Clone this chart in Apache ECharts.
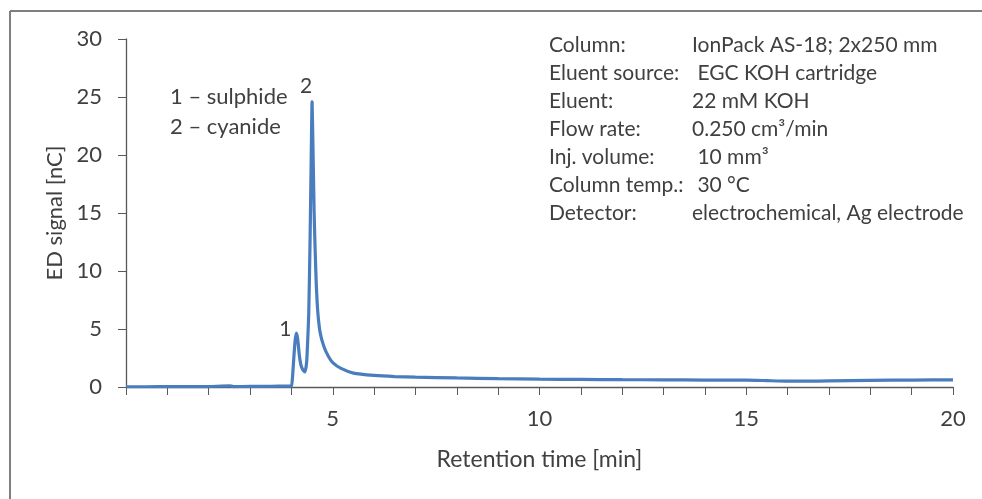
<!DOCTYPE html>
<html>
<head>
<meta charset="UTF-8">
<title>ED chromatogram</title>
<script src="https://cdn.jsdelivr.net/npm/echarts@6/dist/echarts.min.js"></script>
<style>
    html, body { margin: 0; padding: 0; background: #fff; }
    #chart { width: 982px; height: 499px; }
</style>
</head>
<body>
<div id="chart"></div>
<script>
// retention time [min] and ED signal [nC]
var timeMin = [0, 0.5, 1, 1.5, 2, 2.5, 2.6, 3, 3.5, 3.9, 4.0, 4.03, 4.06, 4.09, 4.12, 4.15, 4.19,
    4.23, 4.28, 4.33, 4.37, 4.4, 4.42, 4.45, 4.48, 4.5, 4.52, 4.55, 4.57, 4.6, 4.64, 4.7, 4.79,
    4.9, 5.0, 5.2, 5.5, 6, 6.5, 7, 8, 9, 10, 11, 12, 13, 14, 15, 15.5, 16, 16.5, 17, 18, 19, 20];
var signal = [0.02, 0.02, 0.03, 0.03, 0.04, 0.1, 0.04, 0.05, 0.06, 0.08, 0.1, 1.0, 2.6, 4.0, 4.65, 4.2, 2.8,
    1.9, 1.45, 1.3, 2.2, 4.5, 6.4, 12.3, 20, 24.6, 21, 15, 12.3, 9, 6.4, 4.6, 3.45,
    2.6, 2.1, 1.6, 1.2, 1.0, 0.9, 0.85, 0.78, 0.72, 0.68, 0.65, 0.63, 0.62, 0.6, 0.6, 0.55, 0.5, 0.5, 0.53, 0.57, 0.6, 0.62];
var peakNames = ['1', '2'];
var peakTimes = [4.12, 4.5];
var legendLines = ['1 – sulphide', '2 – cyanide'];
var infoLabels = ['Column:', 'Eluent source:', 'Eluent:', 'Flow rate:', 'Inj. volume:', 'Column temp.:', 'Detector:'];
var infoValues = ['IonPack AS-18; 2x250 mm', ' EGC KOH cartridge', '22 mM KOH', '0.250 cm³/min', ' 10 mm³', ' 30 °C', 'electrochemical, Ag electrode'];

var font = 'Lato';
var txt = '#404040';

var seriesData = timeMin.map(function (t, i) { return [t, signal[i]]; });

var peakPoints = peakNames.map(function (n, k) {
    var i = timeMin.indexOf(peakTimes[k]);
    return { name: n, coord: [timeMin[i], signal[i]] };
});

var graphics = [
    { type: 'line', shape: { x1: 10, y1: 11, x2: 982, y2: 11 }, style: { stroke: '#7f7f7f', lineWidth: 2 } },
    { type: 'line', shape: { x1: 10, y1: 11, x2: 10, y2: 499 }, style: { stroke: '#7f7f7f', lineWidth: 2 } }
];
legendLines.forEach(function (s, i) {
    graphics.push({ type: 'text', left: 170, top: 86 + i * 30,
        style: { text: s, fill: txt, font: '22px ' + font } });
});
infoLabels.forEach(function (s, i) {
    graphics.push({ type: 'text', left: 549, top: 35 + i * 28,
        style: { text: s, fill: txt, font: '21px ' + font } });
    graphics.push({ type: 'text', left: 692, top: 35 + i * 28,
        style: { text: infoValues[i], fill: txt, font: '21px ' + font } });
});

var myChart = echarts.init(document.getElementById('chart'));
var option = {
    animation: false,
    grid: { left: 126, right: 29, top: 39, bottom: 112 },
    xAxis: {
        type: 'value', min: 0, max: 20, interval: 1,
        name: 'Retention time [min]', nameLocation: 'middle', nameGap: 61,
        nameTextStyle: { color: txt, fontSize: 23, fontFamily: font },
        axisLine: { lineStyle: { color: '#595959', width: 1.3 } },
        axisTick: { show: true, length: 8, inside: false, lineStyle: { color: '#595959' } },
        axisLabel: {
            color: txt, fontSize: 22, fontFamily: font, margin: 21,
            formatter: function (v) { return (v > 0 && v % 5 === 0) ? String(v) : ''; }
        },
        splitLine: { show: false }
    },
    yAxis: {
        type: 'value', min: 0, max: 30, interval: 5,
        name: 'ED signal [nC]', nameLocation: 'middle', nameGap: 60, nameRotate: 90,
        nameTextStyle: { color: txt, fontSize: 22, fontFamily: font },
        axisLine: { show: true, lineStyle: { color: '#595959', width: 1.3 } },
        axisTick: { show: true, length: 8, lineStyle: { color: '#595959' } },
        axisLabel: { color: txt, fontSize: 22, fontFamily: font, margin: 24 },
        splitLine: { show: false }
    },
    series: [{
        type: 'line',
        data: seriesData,
        showSymbol: false,
        smooth: 0.15,
        lineStyle: { color: '#4a7dbd', width: 3.2 },
        markPoint: {
            symbol: 'circle', symbolSize: 0,
            label: {
                show: true, color: txt, fontSize: 21, fontFamily: font,
                formatter: '{b}'
            },
            data: [
                Object.assign({}, peakPoints[0], { label: { position: 'left', offset: [0, -4] } }),
                Object.assign({}, peakPoints[1], { label: { position: 'top', offset: [-6, 0] } })
            ]
        }
    }],
    graphic: graphics
};
myChart.setOption(option);
</script>
</body>
</html>
